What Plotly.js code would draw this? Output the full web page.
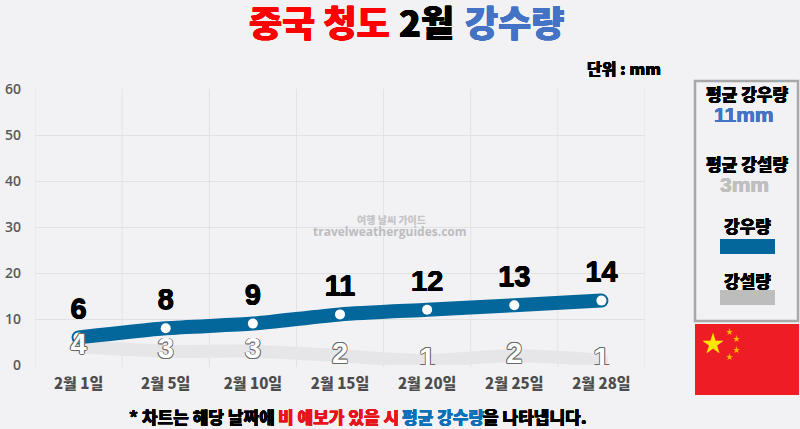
<!DOCTYPE html>
<html><head><meta charset="utf-8">
<script src="https://cdn.plot.ly/plotly-3.0.1.min.js"></script>
<style>html,body{margin:0;padding:0;background:#f2f2f4;overflow:hidden}
.scatterlayer .js-line{stroke-linecap:round}</style>
</head><body><div id="c" style="width:800px;height:429px"></div>
<script>
const days=["2월 1일","2월 5일","2월 10일","2월 15일","2월 20일","2월 25일","2월 28일"];
const rain=[6,8,9,11,12,13,14];
const snow=[4,3,3,2,1,2,1];
const yTicks=[0,10,20,30,40,50,60];
const KR='"Noto Sans CJK KR","Noto Sans",sans-serif';
const NUM='"Liberation Sans",sans-serif';
const W=800,H=429;
const px=x=>x/W, py=y=>1-y/H;
function outline(c,w){return [[1,0],[-1,0],[0,1],[0,-1]].map(([a,b])=>`${a*w}px ${b*w}px 0 ${c}`).join(',');}
function ring(c,w){const o=[];for(const[a,b]of[[1,0],[-1,0],[0,1],[0,-1],[.7,.7],[-.7,-.7],[.7,-.7],[-.7,.7]])o.push(`${a*w}px ${b*w}px 0 ${c}`);return o.join(',');}
const traces=[
 {x:days,y:snow,mode:'lines',line:{color:'#e6e6e8',width:13,shape:'spline',smoothing:1},hoverinfo:'skip'},
 {x:days,y:rain,mode:'lines',line:{color:'#03679c',width:14,shape:'spline',smoothing:.6},hoverinfo:'skip'},
 {x:days,y:rain,mode:'markers',marker:{color:'#ffffff',size:10,line:{width:0}},hoverinfo:'skip'},
 {x:days,y:rain,mode:'markers+text',text:rain.map(String),textposition:'top center',
  marker:{color:'rgba(0,0,0,0)',size:17,line:{width:0}},
  textfont:{family:NUM,size:29,color:'#000',weight:700,shadow:outline('#000',0.4)},hoverinfo:'skip'},
 {x:days,y:snow,mode:'text',text:snow.map(String),textposition:'middle center',
  textfont:{family:NUM,size:29,color:'#ffffff',weight:700,shadow:ring('#6a6a6a',0.9)},hoverinfo:'skip'}
];
const ann=(x,y,text,size,color,thick,family)=>({xref:'paper',yref:'paper',x:px(x),y:py(y),text,showarrow:false,xanchor:'center',yanchor:'middle',
  font:{family:family||KR,size,color,weight:family?700:900,shadow:thick?outline(color,thick):'none'}});
const layout={
 width:W,height:H,margin:{l:0,r:0,t:0,b:0},paper_bgcolor:'#f2f2f4',plot_bgcolor:'#f2f2f4',showlegend:false,
 xaxis:{domain:[px(35),px(645)],type:'category',range:[-0.5,6.5],showgrid:false,showline:false,ticks:'',zeroline:false,
   tickfont:{family:KR,size:15,color:'#4d4d4d',weight:900},ticklabelstandoff:8},
 yaxis:{domain:[py(365),py(89)],range:[0,60],tickvals:yTicks,showgrid:true,gridcolor:'#e2e2e4',gridwidth:1,zeroline:false,ticks:'',
   tickfont:{family:'"Open Sans",sans-serif',size:14,color:'#595959',weight:600},ticklabelstandoff:13},
 shapes:[
  ...[0,1,2,3,4,5,6,7].map(i=>({type:'line',xref:'x',yref:'paper',x0:i-0.5,x1:i-0.5,y0:py(367),y1:py(89),line:{color:'#e2e2e4',width:1},layer:'below'})),
  {type:'rect',xref:'paper',yref:'paper',x0:px(695),x1:px(798),y0:py(321),y1:py(81),line:{color:'#a9a9a9',width:2.5},fillcolor:'rgba(0,0,0,0)'},
  {type:'rect',xref:'paper',yref:'paper',x0:px(720),x1:px(775),y0:py(254),y1:py(239),line:{width:0},fillcolor:'#03679c'},
  {type:'rect',xref:'paper',yref:'paper',x0:px(720),x1:px(775),y0:py(305),y1:py(290),line:{width:0},fillcolor:'#bdbdbd'},
  {type:'rect',xref:'paper',yref:'paper',x0:px(695),x1:px(799),y0:py(395),y1:py(324),line:{width:0},fillcolor:'#ee1c25'}
 ],
 annotations:[
  ann(319,21,'중국 청도',36,'#ff0000',0.4),
  ann(426,21,'2월',36,'#000000',0.4),
  ann(514,21,'강수량',36,'#4472c4',0.4),
  ann(624,68,'단위 : mm',16,'#000000',0.2),
  ann(747,93,'평균 강우량',17,'#000000',0.2),
  ann(744,114,'11mm',21,'#4472c4',0.3,NUM),
  ann(747,163,'평균 강설량',17,'#000000',0.2),
  ann(744,184,'3mm',21,'#bfbfbf',0.3,NUM),
  ann(747,225,'강우량',17,'#000000',0.2),
  ann(747,280,'강설량',17,'#000000',0.2),
  ann(391,219,'여행 날씨 가이드',10,'#c4c4c6'),
  Object.assign(ann(390,231,'travelweatherguides.com',12,'#bcbcbe'),{font:{family:'"Open Sans",sans-serif',size:12,color:'#bcbcbe',weight:700}}),
  ann(202,416,'* 차트는 해당 날짜에',17,'#000000',0.2),
  ann(338,416,'비 예보가 있을 시',17,'#e8141c',0.2),
  ann(443,416,'평균 강수량',17,'#0b70b8',0.2),
  ann(535,416,'을 나타냅니다.',17,'#000000',0.2),
  ann(712.5,341,'★',22,'#ffe600'),
  ann(729.5,331,'★',7,'#ffb400'),
  ann(736,338,'★',7,'#ffb400'),
  ann(736,349,'★',7,'#ffb400'),
  ann(729.5,356,'★',7,'#ffb400')
 ]
};
Plotly.newPlot('c',traces,layout,{staticPlot:true,displayModeBar:false});
</script></body></html>
